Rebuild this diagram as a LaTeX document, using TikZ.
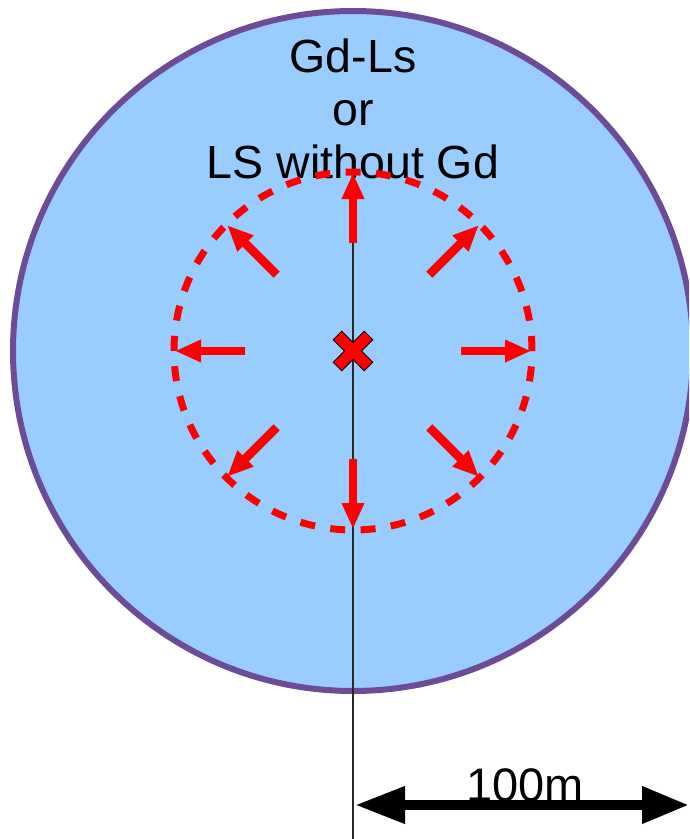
\documentclass[tikz,border=0pt]{standalone}
\usepackage{fontspec}
\setmainfont{Liberation Sans}
\usetikzlibrary{arrows.meta,calc}
\definecolor{lsblue}{RGB}{153,204,255}
\definecolor{rimpurple}{RGB}{108,76,150}
\definecolor{guide}{RGB}{40,40,40}
\tikzset{
  vessel/.style={draw=rimpurple,fill=lsblue,line width=6pt},
  front/.style={draw=red,line width=7pt,dash pattern=on 15pt off 15.4pt},
  radarrow/.style={draw=red,line width=8.5pt,-{Triangle[length=26pt,width=21pt]}},
  xmark/.style={fill=red,draw=black,line width=0.8pt,line join=miter},
  guideline/.style={draw=guide,line width=1.3pt},
  scalearrow/.style={draw=black,line width=10pt,{Triangle[length=50pt,width=35pt]}-{Triangle[length=47pt,width=35pt]}},
  bigtext/.style={font=\fontsize{46.5}{53}\selectfont,inner sep=0pt,anchor=base},
  scaletext/.style={font=\fontsize{47}{56}\selectfont,inner sep=0pt,anchor=base}
}
\begin{document}
\begin{tikzpicture}[x=1pt,y=-1pt]
\useasboundingbox (0,0) rectangle (689,839);
\clip (0,0) rectangle (689,839);
\coordinate (c) at (353,351);
% vessel
\draw[vessel] (c) circle[radius=340pt];
% text
\node[bigtext] (t1) at (353,72) {Gd-Ls};
\node[bigtext] (t2) at (353,125) {or};
\node[bigtext] (t3) at (353,178) {LS without Gd};
% guide line
\coordinate (gtop) at (353,172);
\coordinate (gbot) at (353,839);
\draw[guideline] (gtop) -- (gbot);
% dashed front
\draw[front] (c) circle[radius=179pt];
% radial arrows
\foreach \a in {0,45,...,315}{
  \coordinate (s\a) at ($(c)+(\a:108pt)$);
  \coordinate (e\a) at ($(c)+(\a:178pt)$);
  \draw[radarrow] (s\a) -- (e\a);
}
% source mark
\filldraw[xmark,shift={(c)},rotate=45]
  (22,6) -- (6,6) -- (6,22) -- (-6,22) -- (-6,6) -- (-22,6) -- (-22,-6)
  -- (-6,-6) -- (-6,-22) -- (6,-22) -- (6,-6) -- (22,-6) -- cycle;
% scale
\node[scaletext] (lab) at (525,801) {100m};
\coordinate (sl) at (355,805);
\coordinate (sr) at (689,805);
\draw[scalearrow] (sl) -- (sr);
\end{tikzpicture}
\end{document}
